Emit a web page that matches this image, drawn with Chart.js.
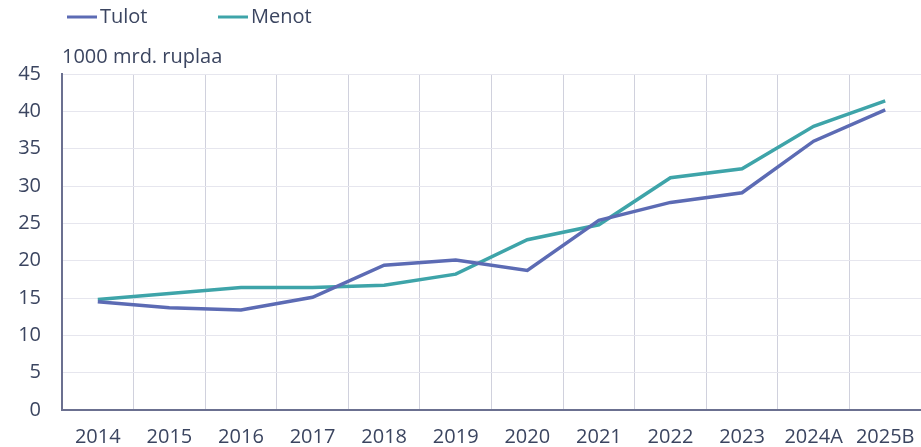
<!DOCTYPE html>
<html>
<head>
<meta charset="utf-8">
<script src="https://cdn.jsdelivr.net/npm/chart.js@4"></script>
<style>
  html, body { margin: 0; padding: 0; background: #fff; }
  #wrap { width: 921px; height: 447px; }
</style>
</head>
<body>
<div id="wrap"><canvas id="chart"></canvas></div>
<script>
// data
const years = ['2014', '2015', '2016', '2017', '2018', '2019', '2020', '2021', '2022', '2023', '2024A', '2025B'];
const tulot = [14.5, 13.7, 13.4, 15.1, 19.4, 20.1, 18.7, 25.4, 27.8, 29.1, 36.0, 40.2];
const menot = [14.8, 15.6, 16.4, 16.4, 16.7, 18.2, 22.8, 24.8, 31.1, 32.3, 38.0, 41.4];
const unitLabel = '1000 mrd. ruplaa';

const textColor = '#3b4560';
const font = 'Open Sans';
const colors = ['#5c6bb4', '#3ea4a9'];

// legend + unit label drawn by hand so they sit where the original has them
const topTexts = {
  id: 'topTexts',
  afterDraw(chart) {
    const ctx = chart.ctx;
    const area = chart.chartArea;
    ctx.save();
    ctx.textBaseline = 'middle';
    ctx.fillStyle = textColor;

    // legend
    ctx.font = '20px "' + font + '"';
    const legendX = [67, 218];
    chart.data.datasets.forEach((ds, i) => {
      const x = legendX[i];
      ctx.strokeStyle = ds.borderColor;
      ctx.lineWidth = 3;
      ctx.beginPath();
      ctx.moveTo(x, 17);
      ctx.lineTo(x + 30, 17);
      ctx.stroke();
      ctx.fillText(ds.label, x + 33, 17);
    });

    // unit
    ctx.font = '20px "' + font + '"';
    ctx.fillText(unitLabel, area.left, 57);
    ctx.restore();
  }
};

new Chart(document.getElementById('chart'), {
  type: 'line',
  data: {
    labels: years,
    datasets: [
      { label: 'Tulot', data: tulot, borderColor: colors[0], backgroundColor: colors[0], borderWidth: 3.5, pointRadius: 0, tension: 0 },
      { label: 'Menot', data: menot, borderColor: colors[1], backgroundColor: colors[1], borderWidth: 3.5, pointRadius: 0, tension: 0 }
    ]
  },
  plugins: [topTexts],
  options: {
    responsive: true,
    maintainAspectRatio: false,
    animation: false,
    layout: { padding: { left: 0, right: 0, top: 74, bottom: 0 } },
    plugins: {
      legend: { display: false },
      title: { display: false },
      tooltip: { enabled: false }
    },
    scales: {
      x: {
        offset: true,
        grid: { offset: true, color: '#d0d1dd', lineWidth: 1, drawTicks: false },
        border: { color: '#6b7090', width: 2 },
        ticks: { color: textColor, font: { family: font, size: 20 }, padding: 15, maxRotation: 0 },
        afterFit(scale) {
          scale.height = 37;
          scale.paddingLeft = 0;
          scale.paddingRight = 0;
        }
      },
      y: {
        min: 0,
        max: 45,
        grid: { color: '#e6e6ee', lineWidth: 1, drawTicks: false },
        border: { color: '#6b7090', width: 2 },
        ticks: { stepSize: 5, color: textColor, font: { family: font, size: 20 }, padding: 21 },
        afterFit(scale) { scale.width = 62; }
      }
    }
  }
});
</script>
</body>
</html>
